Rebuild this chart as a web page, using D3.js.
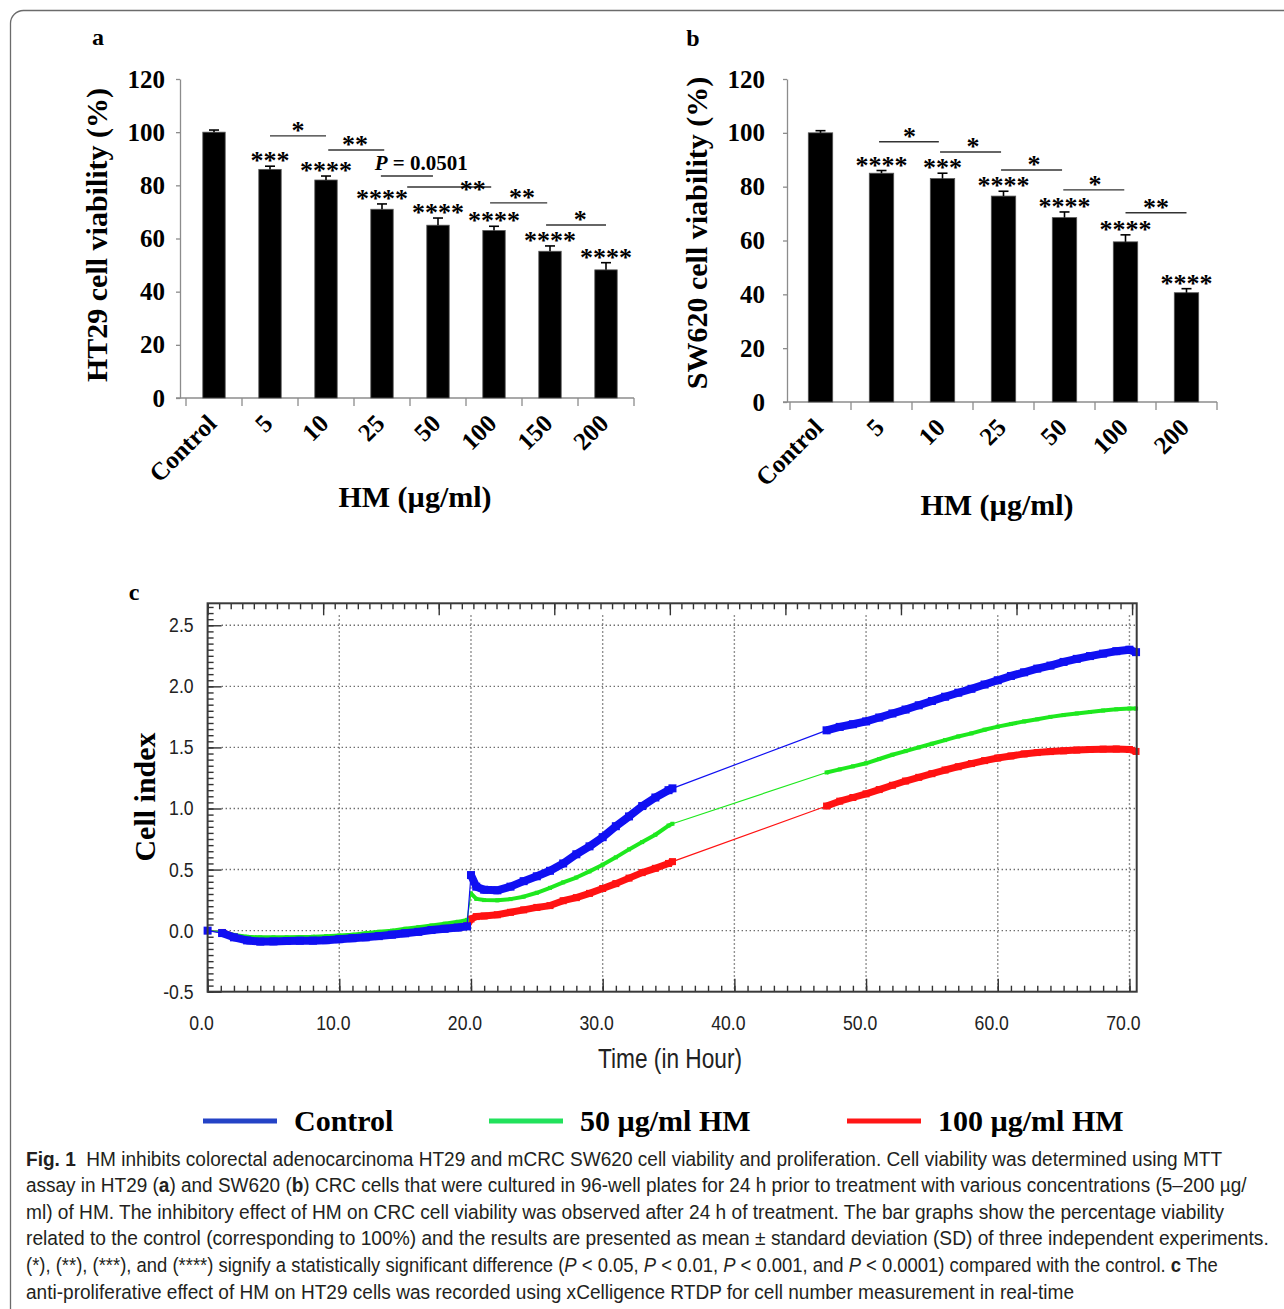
<!DOCTYPE html>
<html>
<head>
<meta charset="utf-8">
<script src="https://cdnjs.cloudflare.com/ajax/libs/d3/7.8.5/d3.min.js"></script>
<style>
  body { margin: 0; background: #fff; }
  svg { display: block; }
</style>
</head>
<body>
<svg id="fig" width="1284" height="1309"></svg>
<script>

// ---------------------------------------------------------------
// DATA
// ---------------------------------------------------------------

// panel a - HT29 MTT
var doses_a = ['Control', '5', '10', '25', '50', '100', '150', '200'];
var viability_a = [100, 86, 82, 71, 65, 63, 55.2, 48.2];
var sd_a = [0.8, 1.2, 1.5, 2, 2.7, 1.6, 2, 2.7];
var stars_a = ['', '***', '****', '****', '****', '****', '****', '****'];
// pairwise brackets (positions in category index units, level in %)
var brFrom_a = [1, 2.04, 2.98, 3.45, 4.93, 5.93];
var brTo_a = [2, 3.04, 3.91, 4.95, 5.95, 7];
var brLevel_a = [98.6, 93.3, 83.5, 79.4, 73.4, 65.1];
var brLabel_a = ['*', '**', 'P = 0.0501', '**', '**', '*'];
var brLabelPos_a = [1.5, 2.52, 3.7, 4.62, 5.5, 6.54];

// panel b - SW620 MTT
var doses_b = ['Control', '5', '10', '25', '50', '100', '200'];
var viability_b = [100, 85, 83, 76.5, 68.5, 59.5, 40.6];
var sd_b = [0.8, 1, 2, 1.8, 2.1, 2.6, 1.5];
var stars_b = ['', '****', '***', '****', '****', '****', '****'];
var brFrom_b = [0.96, 1.96, 2.96, 3.98, 5];
var brTo_b = [1.94, 2.96, 3.96, 4.98, 6];
var brLevel_b = [96.7, 92.9, 86.2, 78.8, 70.3];
var brLabel_b = ['*', '*', '*', '*', '**'];
var brLabelPos_b = [1.46, 2.5, 3.5, 4.5, 5.5];

var viabilityTicks = [0, 20, 40, 60, 80, 100, 120];

// panel c - xCelligence cell index
var hours = [0, 1.1, 2, 3, 4, 5, 6, 7, 8, 9, 10, 11, 12, 13, 14, 15, 16, 17, 18, 19,
  19.7, 20, 20.4, 21, 22, 23, 24, 25, 26, 27, 28, 29, 30, 31, 32, 33, 34, 35, 35.3,
  47, 48, 49, 50, 51, 52, 53, 54, 55, 56, 57, 58, 59, 60, 61, 62, 63, 64, 65, 66,
  67, 68, 69, 70, 70.5];

var control_ci = [0.00, -0.02, -0.055, -0.08, -0.09, -0.088, -0.085, -0.083, -0.082, -0.078,
  -0.07, -0.062, -0.055, -0.045, -0.033, -0.022, -0.01, 0.005, 0.015, 0.025,
  0.035, 0.455, 0.36, 0.335, 0.33, 0.36, 0.405, 0.445, 0.49, 0.55, 0.625, 0.69, 0.765,
  0.855, 0.935, 1.02, 1.09, 1.15, 1.165,
  1.64, 1.668, 1.69, 1.713, 1.745, 1.778, 1.81, 1.845, 1.88, 1.915, 1.948, 1.98, 2.015,
  2.05, 2.085, 2.115, 2.145, 2.17, 2.2, 2.225, 2.248, 2.268, 2.288, 2.3, 2.28];

var hm50_ci = [0.00, -0.01, -0.035, -0.05, -0.055, -0.055, -0.055, -0.052, -0.05, -0.045,
  -0.04, -0.033, -0.022, -0.01, 0.0, 0.015, 0.028, 0.042, 0.057, 0.072,
  0.088, 0.305, 0.26, 0.25, 0.248, 0.258, 0.278, 0.31, 0.35, 0.395, 0.435, 0.485, 0.54,
  0.6, 0.665, 0.725, 0.785, 0.86, 0.875,
  1.295, 1.32, 1.345, 1.37, 1.405, 1.44, 1.47, 1.5, 1.53, 1.56, 1.59, 1.615, 1.645,
  1.67, 1.692, 1.713, 1.73, 1.75, 1.765, 1.778, 1.79, 1.802, 1.812, 1.818, 1.818];

var hm100_ci = [0.00, -0.015, -0.05, -0.07, -0.078, -0.077, -0.075, -0.073, -0.071, -0.067,
  -0.06, -0.052, -0.043, -0.033, -0.022, -0.01, 0.0, 0.012, 0.023, 0.033,
  0.04, 0.095, 0.115, 0.12, 0.13, 0.15, 0.17, 0.19, 0.205, 0.245, 0.27, 0.305, 0.345,
  0.385, 0.43, 0.475, 0.51, 0.55, 0.565,
  1.02, 1.06, 1.09, 1.12, 1.155, 1.19, 1.225, 1.255, 1.285, 1.315, 1.342, 1.368, 1.392,
  1.413, 1.43, 1.447, 1.458, 1.466, 1.472, 1.478, 1.483, 1.486, 1.487, 1.483, 1.467];

var seriesNames = ['Control', '50 µg/ml HM', '100 µg/ml HM'];
var timeTicks = [0, 10, 20, 30, 40, 50, 60, 70];
var ciTicks = [-0.5, 0, 0.5, 1, 1.5, 2, 2.5];

// caption lines: [text, style] segments; b = bold, i = italic
var captionLines = [
  [['Fig. 1', 'b'], ['  HM inhibits colorectal adenocarcinoma HT29 and mCRC SW620 cell viability and proliferation. Cell viability was determined using MTT', '']],
  [['assay in HT29 (', ''], ['a', 'b'], [') and SW620 (', ''], ['b', 'b'], [') CRC cells that were cultured in 96-well plates for 24 h prior to treatment with various concentrations (5–200 µg/', '']],
  [['ml) of HM. The inhibitory effect of HM on CRC cell viability was observed after 24 h of treatment. The bar graphs show the percentage viability', '']],
  [['related to the control (corresponding to 100%) and the results are presented as mean ± standard deviation (SD) of three independent experiments.', '']],
  [['(*), (**), (***), and (****) signify a statistically significant difference (', ''], ['P', 'i'], [' < 0.05, ', ''], ['P', 'i'], [' < 0.01, ', ''], ['P', 'i'], [' < 0.001, and ', ''], ['P', 'i'], [' < 0.0001) compared with the control. ', ''], ['c', 'b'], [' The', '']],
  [['anti-proliferative effect of HM on HT29 cells was recorded using xCelligence RTDP for cell number measurement in real-time', '']]
];
var captionEnds = [1223, 1247, 1225, 1270, 1218, 1075];

// ---------------------------------------------------------------
// SETUP
// ---------------------------------------------------------------

var SERIF = "'Liberation Serif','Times New Roman',serif";
var NARROW = "'Liberation Sans Narrow','Liberation Sans',Arial,sans-serif";

var svg = d3.select('#fig');

// figure frame (rounded, runs off the page right / bottom)
svg.append('rect')
    .attr('x', 10.5).attr('y', 10.5)
    .attr('width', 1320).attr('height', 1340)
    .attr('rx', 13)
    .attr('fill', 'none')
    .attr('stroke', '#6b6b6b')
    .attr('stroke-width', 1.3);

// ---------------------------------------------------------------
// BAR PANELS
// ---------------------------------------------------------------

function drawBarPanel(p) {

    var g = svg.append('g');
    var x = d3.scaleBand().domain(p.cats).range([p.bandLeft, p.bandRight]);
    var y = d3.scaleLinear().domain([0, 120]).range([p.bottom, p.top]);
    var cx = function (i) { return p.bandLeft + x.step() * (i + 0.5); };
    var barW = x.bandwidth() * 0.4;

    //y axis
    var ya = g.append('g')
        .attr('transform', 'translate(' + p.axisX + ',0)')
        .call(d3.axisLeft(y).tickValues(viabilityTicks).tickSize(4).tickSizeOuter(0)
            .tickPadding(p.tickPad).tickFormat(d3.format('d')));
    ya.select('.domain').attr('stroke', '#8c8c8c').attr('stroke-width', 1.3);
    ya.selectAll('.tick line').attr('stroke', '#8c8c8c').attr('stroke-width', 1.3);
    ya.selectAll('.tick text')
        .attr('font-family', SERIF).attr('font-weight', 'bold')
        .attr('font-size', 25).attr('fill', '#000');

    //x axis with ticks at band edges
    g.append('line')
        .attr('x1', p.axisX - 4).attr('x2', p.bandRight)
        .attr('y1', y(0)).attr('y2', y(0))
        .attr('stroke', '#8c8c8c').attr('stroke-width', 1.3);
    var edges = p.cats.map(function (c) { return x(c); }).concat([p.bandRight]);
    g.selectAll('.edge').data(edges).enter().append('line')
        .attr('class', 'edge')
        .attr('x1', function (d) { return d; }).attr('x2', function (d) { return d; })
        .attr('y1', y(0)).attr('y2', y(0) + 8)
        .attr('stroke', '#8c8c8c').attr('stroke-width', 1.3);

    //bars
    g.selectAll('.bar').data(p.values).enter().append('rect')
        .attr('class', 'bar')
        .attr('x', function (d, i) { return cx(i) - barW / 2; })
        .attr('y', function (d) { return y(d); })
        .attr('width', barW)
        .attr('height', function (d) { return y(0) - y(d); })
        .attr('fill', '#000')
        .attr('stroke', '#555').attr('stroke-width', 0.8);

    //error bars (upper half only)
    var err = g.selectAll('.err').data(p.values).enter().append('g').attr('class', 'err');
    err.append('line')
        .attr('x1', function (d, i) { return cx(i); })
        .attr('x2', function (d, i) { return cx(i); })
        .attr('y1', function (d) { return y(d); })
        .attr('y2', function (d, i) { return y(d + p.sd[i]); })
        .attr('stroke', '#000').attr('stroke-width', 1.6);
    err.append('line')
        .attr('x1', function (d, i) { return cx(i) - 5; })
        .attr('x2', function (d, i) { return cx(i) + 5; })
        .attr('y1', function (d, i) { return y(d + p.sd[i]); })
        .attr('y2', function (d, i) { return y(d + p.sd[i]); })
        .attr('stroke', '#000').attr('stroke-width', 1.6);

    //significance vs control
    g.selectAll('.star').data(p.stars).enter().append('text')
        .attr('class', 'star')
        .attr('x', function (d, i) { return cx(i); })
        .attr('y', function (d, i) { return y(p.values[i] + p.sd[i]) + 3; })
        .attr('text-anchor', 'middle')
        .attr('font-family', SERIF).attr('font-weight', 'bold').attr('font-size', 26)
        .text(function (d) { return d; });

    //pairwise brackets
    p.brLevel.forEach(function (lv, k) {
        g.append('line')
            .attr('x1', cx(p.brFrom[k])).attr('x2', cx(p.brTo[k]))
            .attr('y1', y(lv)).attr('y2', y(lv))
            .attr('stroke', '#333').attr('stroke-width', 1.4);
        var lab = p.brLabel[k];
        var t = g.append('text')
            .attr('x', cx(p.brLabelPos[k]))
            .attr('text-anchor', 'middle')
            .attr('font-family', SERIF).attr('font-weight', 'bold');
        if (lab.charAt(0) === 'P') {
            t.attr('y', y(lv) - 6).attr('font-size', 21);
            t.append('tspan').attr('font-style', 'italic').text('P');
            t.append('tspan').text(lab.slice(1));
        } else {
            // stars tucked under a P-value label sit right on their line
            var underP = k > 0 && p.brLabel[k - 1].charAt(0) === 'P';
            t.attr('y', y(lv) + (underP ? 11 : 3)).attr('font-size', 26).text(lab);
        }
    });

    //category labels
    g.selectAll('.cat').data(p.cats).enter().append('text')
        .attr('class', 'cat')
        .attr('transform', function (d, i) {
            return 'translate(' + (cx(i) + 4) + ',' + (y(0) + 27) + ') rotate(-45)';
        })
        .attr('text-anchor', 'end')
        .attr('font-family', SERIF).attr('font-weight', 'bold').attr('font-size', 25)
        .text(function (d) { return d; });

    //titles
    g.append('text')
        .attr('transform', 'translate(' + p.yTitleX + ',' + p.yTitleY + ') rotate(-90)')
        .attr('text-anchor', 'middle')
        .attr('font-family', SERIF).attr('font-weight', 'bold').attr('font-size', 30)
        .text(p.yTitle);
    g.append('text')
        .attr('x', p.xTitleX).attr('y', p.xTitleY)
        .attr('text-anchor', 'middle')
        .attr('font-family', SERIF).attr('font-weight', 'bold').attr('font-size', 30)
        .text('HM (µg/ml)');
    g.append('text')
        .attr('x', p.letterX).attr('y', p.letterY)
        .attr('text-anchor', 'middle')
        .attr('font-family', SERIF).attr('font-weight', 'bold').attr('font-size', 24)
        .text(p.letter);
}

drawBarPanel({
    cats: doses_a, values: viability_a, sd: sd_a, stars: stars_a,
    brFrom: brFrom_a, brTo: brTo_a, brLevel: brLevel_a, brLabel: brLabel_a, brLabelPos: brLabelPos_a,
    bandLeft: 186, bandRight: 634, axisX: 180, top: 79, bottom: 398, tickPad: 11,
    yTitle: 'HT29 cell viability (%)', yTitleX: 107, yTitleY: 235,
    xTitleX: 415, xTitleY: 507, letter: 'a', letterX: 98, letterY: 45
});

drawBarPanel({
    cats: doses_b, values: viability_b, sd: sd_b, stars: stars_b,
    brFrom: brFrom_b, brTo: brTo_b, brLevel: brLevel_b, brLabel: brLabel_b, brLabelPos: brLabelPos_b,
    bandLeft: 790, bandRight: 1217, axisX: 787, top: 79, bottom: 402, tickPad: 18,
    yTitle: 'SW620 cell viability (%)', yTitleX: 707, yTitleY: 233,
    xTitleX: 997, xTitleY: 515, letter: 'b', letterX: 693, letterY: 46
});

// ---------------------------------------------------------------
// PANEL C - REAL TIME CELL INDEX
// ---------------------------------------------------------------

var plot = { left: 207.6, right: 1136.7, top: 603.3, bottom: 991.7 };
var xT = d3.scaleLinear().domain([0, 70.55]).range([plot.left, plot.right]);
var xTop = d3.scaleLinear().domain([0, 80.4]).range([plot.left, plot.right]);
var yC = d3.scaleLinear().domain([-0.5, 2.68]).range([plot.bottom, plot.top]);

var gc = svg.append('g');

//dotted grid
gc.selectAll('.hgrid').data(ciTicks.slice(1)).enter().append('line')
    .attr('x1', plot.left + 14).attr('x2', plot.right)
    .attr('y1', function (d) { return yC(d); }).attr('y2', function (d) { return yC(d); })
    .attr('stroke', '#6e6e6e').attr('stroke-width', 1.4).attr('stroke-dasharray', '1.4,2.6');
gc.selectAll('.vgrid').data(timeTicks.slice(1)).enter().append('line')
    .attr('x1', function (d) { return xT(d); }).attr('x2', function (d) { return xT(d); })
    .attr('y1', plot.top + 12).attr('y2', plot.bottom)
    .attr('stroke', '#6e6e6e').attr('stroke-width', 1.4).attr('stroke-dasharray', '1.4,2.6');

//inward ticks on bottom, top and left
function styleTicks(sel) {
    sel.select('.domain').remove();
    sel.selectAll('.tick line').attr('stroke', '#333').attr('stroke-width', 1.4);
    sel.selectAll('.tick text').remove();
}
gc.append('g').attr('transform', 'translate(0,' + plot.bottom + ')')
    .call(d3.axisBottom(xT).tickValues(d3.range(0, 71)).tickSize(-6)).call(styleTicks);
gc.append('g').attr('transform', 'translate(0,' + plot.bottom + ')')
    .call(d3.axisBottom(xT).tickValues(timeTicks).tickSize(-13)).call(styleTicks);
gc.append('g').attr('transform', 'translate(0,' + plot.top + ')')
    .call(d3.axisTop(xTop).tickValues(d3.range(0, 81)).tickSize(-6)).call(styleTicks);
gc.append('g').attr('transform', 'translate(0,' + plot.top + ')')
    .call(d3.axisTop(xTop).tickValues(d3.range(0, 81, 10)).tickSize(-12)).call(styleTicks);
gc.append('g').attr('transform', 'translate(' + plot.left + ',0)')
    .call(d3.axisLeft(yC).tickValues(d3.range(-10, 54).map(function (k) { return k * 0.05; })).tickSize(-6))
    .call(styleTicks);
gc.append('g').attr('transform', 'translate(' + plot.left + ',0)')
    .call(d3.axisLeft(yC).tickValues(ciTicks).tickSize(-14)).call(styleTicks);

//tick labels (narrow sans, plain hyphen for negatives)
var fmt1 = function (d) { return d3.format('.1f')(d).replace('\u2212', '-'); };
gc.selectAll('.ylab').data(ciTicks).enter().append('text')
    .attr('transform', function (d) {
        return 'translate(' + (plot.left - 14) + ',' + (yC(d) + 7) + ') scale(0.84,1)';
    })
    .attr('text-anchor', 'end')
    .attr('font-family', NARROW).attr('font-size', 21).attr('fill', '#222')
    .text(fmt1);
gc.selectAll('.xlab').data(timeTicks).enter().append('text')
    .attr('transform', function (d) {
        return 'translate(' + (xT(d) - 6) + ',' + (plot.bottom + 38) + ') scale(0.84,1)';
    })
    .attr('text-anchor', 'middle')
    .attr('font-family', NARROW).attr('font-size', 21).attr('fill', '#222')
    .text(fmt1);

gc.append('text')
    .attr('transform', 'translate(670,1068) scale(0.84,1)')
    .attr('text-anchor', 'middle')
    .attr('font-family', NARROW).attr('font-size', 27).attr('fill', '#222')
    .text('Time (in Hour)');
gc.append('text')
    .attr('transform', 'translate(155,797) rotate(-90)')
    .attr('text-anchor', 'middle')
    .attr('font-family', SERIF).attr('font-weight', 'bold').attr('font-size', 30)
    .text('Cell index');
gc.append('text')
    .attr('x', 134).attr('y', 600)
    .attr('text-anchor', 'middle')
    .attr('font-family', SERIF).attr('font-weight', 'bold').attr('font-size', 24)
    .text('c');

//series: thin connecting line, dense marker band where readings are close, square markers
var series = [
    { values: hm100_ci, color: '#ff1212', band: 7, marker: 7 },
    { values: hm50_ci, color: '#1ee81e', band: 4, marker: 4 },
    { values: control_ci, color: '#1010f2', band: 8, marker: 8 }
];
var line = d3.line()
    .x(function (d) { return xT(d[0]); })
    .y(function (d) { return yC(d[1]); });

series.forEach(function (s) {
    var pts = hours.map(function (h, i) { return [h, s.values[i]]; });
    var gs = gc.append('g');
    gs.append('path').attr('d', line(pts))
        .attr('fill', 'none').attr('stroke', s.color).attr('stroke-width', 1.2);

    var runs = [];
    var run = null;
    for (var i = 1; i < pts.length; i++) {
        var dense = (pts[i][0] - pts[i - 1][0]) <= 1.05 && Math.abs(pts[i][1] - pts[i - 1][1]) < 0.2;
        if (dense) {
            if (!run) { run = [pts[i - 1]]; runs.push(run); }
            run.push(pts[i]);
        } else {
            run = null;
        }
    }
    gs.selectAll('.run').data(runs).enter().append('path')
        .attr('d', line)
        .attr('fill', 'none').attr('stroke', s.color)
        .attr('stroke-width', s.band).attr('stroke-linejoin', 'round');

    gs.selectAll('.mk').data(pts).enter().append('rect')
        .attr('x', function (d) { return xT(d[0]) - s.marker / 2; })
        .attr('y', function (d) { return yC(d[1]) - s.marker / 2; })
        .attr('width', s.marker).attr('height', s.marker)
        .attr('fill', s.color);
});

//frame on top
gc.append('rect')
    .attr('x', plot.left).attr('y', plot.top)
    .attr('width', plot.right - plot.left).attr('height', plot.bottom - plot.top)
    .attr('fill', 'none').attr('stroke', '#3a3a3a').attr('stroke-width', 2);

//legend
var legendColors = ['#2443c6', '#22e25c', '#ff1616'];
var legendX = [203, 489, 847];
var lg = svg.append('g');
seriesNames.forEach(function (name, i) {
    lg.append('line')
        .attr('x1', legendX[i]).attr('x2', legendX[i] + 74)
        .attr('y1', 1121).attr('y2', 1121)
        .attr('stroke', legendColors[i]).attr('stroke-width', 5);
    lg.append('text')
        .attr('x', legendX[i] + 91).attr('y', 1131)
        .attr('font-family', SERIF).attr('font-weight', 'bold').attr('font-size', 30)
        .text(name);
});

// ---------------------------------------------------------------
// CAPTION - each line scaled horizontally to the reference line width
// ---------------------------------------------------------------

var cap = svg.append('g');
captionLines.forEach(function (segs, k) {
    var yLine = 1165.5 + k * 26.6;
    var t = cap.append('text')
        .attr('x', 0).attr('y', 0)
        .attr('font-family', NARROW).attr('font-size', 19.5).attr('fill', '#231f20')
        .style('white-space', 'pre');
    segs.forEach(function (s) {
        var ts = t.append('tspan').text(s[0]);
        if (s[1] === 'b') ts.attr('font-weight', 'bold');
        if (s[1] === 'i') ts.attr('font-style', 'italic');
    });
    var w = t.node().getComputedTextLength();
    var sx = (captionEnds[k] - 26) / w;
    t.attr('transform', 'translate(26,' + yLine + ') scale(' + sx + ',1)');
});

</script>
</body>
</html>
